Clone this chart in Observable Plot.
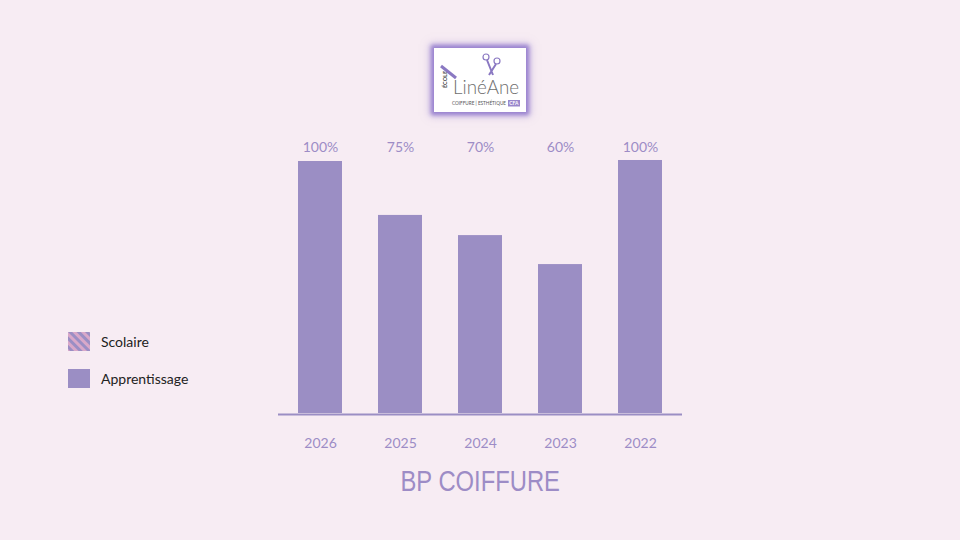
<!DOCTYPE html>
<html>
<head>
<meta charset="utf-8">
<script src="https://cdn.jsdelivr.net/npm/d3@7"></script>
<script src="https://cdn.jsdelivr.net/npm/@observablehq/plot@0.6"></script>
<style>
  html, body { margin: 0; padding: 0; background: #f7ecf3; }
  #wrap { position: relative; width: 960px; height: 540px; overflow: hidden; background: #f7ecf3; }
  #chart { position: absolute; left: 0; top: 0; }
  .title { position: absolute; left: 0; width: 960px; top: 465px; text-align: center;
    font-family: "Liberation Sans", Arial, sans-serif; font-size: 29px; color: #9d8cc6; }
  .title span { display: inline-block; transform: scaleX(0.82); transform-origin: center; }
  .legend { position: absolute; left: 68px; top: 332px; font-family: Lato, "Open Sans", sans-serif; font-size: 14px; color: #222; }
  .legend .item { position: absolute; left: 0; display: flex; align-items: center; white-space: nowrap; }
  .legend svg { display: block; margin-right: 11px; }
  .logo { position: absolute; left: 434px; top: 48px; width: 92px; height: 64px; background: #fff;
    box-shadow: 0 0 4px 3px #9a83d0, 0 0 8px 4px rgba(154,131,208,0.5); }
  .logo svg { overflow: visible; }
</style>
</head>
<body>
<div id="wrap">
  <div id="chart"></div>
  <div class="logo">
    <svg width="92" height="64" viewBox="0 0 92 64">
      <text x="13" y="40" transform="rotate(-90 13 40)" font-family="Lato, sans-serif" font-size="5.5" font-weight="bold" fill="#4a4a4a">ÉCOLE</text>
      <line x1="7" y1="18" x2="22" y2="30" stroke="#8a78c2" stroke-width="3"/>
      <text x="19" y="46" font-family="Lato, sans-serif" font-size="20" font-weight="300" fill="#6e6e6e" textLength="66" lengthAdjust="spacingAndGlyphs">LinéAne</text>
      <circle cx="52" cy="9" r="3" fill="none" stroke="#8a78c2" stroke-width="1.2"/>
      <circle cx="63" cy="13" r="3" fill="none" stroke="#8a78c2" stroke-width="1.2"/>
      <path d="M53 12 L59 27 M62 16 L55 27" stroke="#8a78c2" stroke-width="2" fill="none"/>
      <text x="18" y="57" font-family="Lato, sans-serif" font-size="5" fill="#555" textLength="54" lengthAdjust="spacingAndGlyphs">COIFFURE | ESTHÉTIQUE</text>
      <rect x="74" y="52" width="12" height="6.5" fill="#9a88cc"/>
      <text x="75.2" y="57.3" font-family="Lato, sans-serif" font-size="5" font-weight="bold" fill="#fff">CFA</text>
    </svg>
  </div>
  <div class="legend">
    <div class="item" style="top:0">
      <svg width="22" height="19">
        <defs>
          <pattern id="hatch" patternUnits="userSpaceOnUse" width="6" height="6" patternTransform="rotate(-45)">
            <rect width="6" height="6" fill="#d9a8c9"/>
            <rect width="3" height="6" fill="#9b8ec4"/>
          </pattern>
        </defs>
        <rect width="22" height="19" fill="url(#hatch)"/>
      </svg>
      <span>Scolaire</span>
    </div>
    <div class="item" style="top:37px">
      <svg width="22" height="19"><rect width="22" height="19" fill="#9b8ec4"/></svg>
      <span>Apprentissage</span>
    </div>
  </div>
  <div class="title"><span>BP COIFFURE</span></div>
</div>
<script>
const years = ["2026", "2025", "2024", "2023", "2022"];
const heights = [100, 78.6, 70.6, 59.1, 100.4];
const labels = ["100%", "75%", "70%", "60%", "100%"];

const data = years.map((y, i) => ({year: y, value: heights[i], label: labels[i]}));

const chart = Plot.plot({
  width: 960,
  height: 540,
  marginLeft: 278,
  marginRight: 278,
  marginTop: 161,
  marginBottom: 127,
  style: {background: "transparent", fontFamily: "Lato, 'Open Sans', sans-serif"},
  x: {domain: years, paddingInner: 0.455, paddingOuter: 0.2275, label: null},
  y: {domain: [0, 100], label: null, axis: null},
  marks: [
    Plot.barY(data, {x: "year", y: "value", fill: "#9b8ec4"}),
    Plot.ruleY([0], {stroke: "#9b8ec4", strokeWidth: 2, dy: 1}),
    Plot.text(data, {x: "year", text: "label", frameAnchor: "top", dy: -19, fill: "#9d8cc6", fontSize: 14}),
    Plot.axisX({tickSize: 0, tickPadding: 25, fontSize: 14, color: "#9d8cc6", label: null})
  ]
});
document.getElementById("chart").appendChild(chart);
</script>
</body>
</html>
